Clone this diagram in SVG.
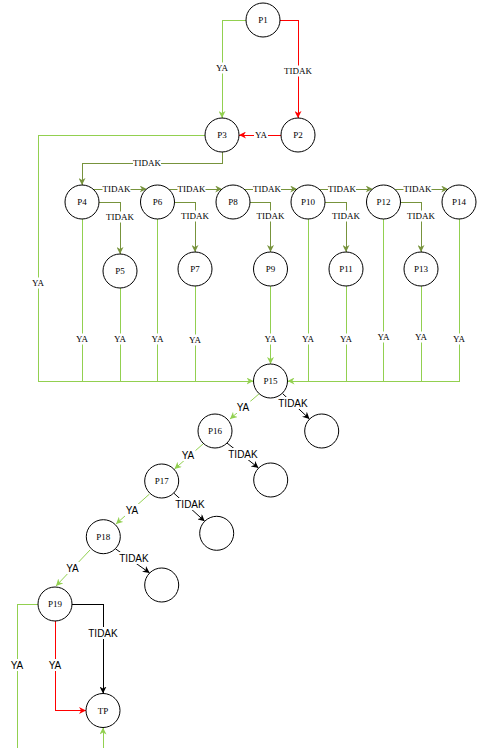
<svg xmlns="http://www.w3.org/2000/svg" width="481" height="748" viewBox="0 0 481 748">
  <style>
    .node circle { fill: #fff; stroke: #000; stroke-width: 1; }
    .node text { font-family: "Liberation Serif", "Times New Roman", serif; font-size: 9px; fill: #000; text-anchor: middle; dominant-baseline: central; }
    .c { fill: none; stroke-width: 1; }
    .h { shape-rendering: crispEdges; }
    .g { stroke: #92D050; }
    .o { stroke: #77933C; }
    .r { stroke: #FF0000; }
    .k { stroke: #000; }
    .bg { fill: #fff; stroke: none; }
    .ls { font-family: "Liberation Serif", "Times New Roman", serif; font-size: 9px; fill: #000; text-anchor: middle; dominant-baseline: central; }
    .la { font-family: "Liberation Sans", Arial, sans-serif; font-size: 10px; fill: #000; text-anchor: middle; dominant-baseline: central; }
  </style>
  <defs>
    <marker id="ag" viewBox="0 0 10 10" refX="10" refY="5" markerWidth="7" markerHeight="7" markerUnits="userSpaceOnUse" orient="auto">
      <path d="M0,0 L10,5 L0,10 L3,5 z" fill="#92D050"/>
    </marker>
    <marker id="ao" viewBox="0 0 10 10" refX="10" refY="5" markerWidth="7" markerHeight="7" markerUnits="userSpaceOnUse" orient="auto">
      <path d="M0,0 L10,5 L0,10 L3,5 z" fill="#77933C"/>
    </marker>
    <marker id="ar" viewBox="0 0 10 10" refX="10" refY="5" markerWidth="7" markerHeight="7" markerUnits="userSpaceOnUse" orient="auto">
      <path d="M0,0 L10,5 L0,10 L3,5 z" fill="#FF0000"/>
    </marker>
    <marker id="ak" viewBox="0 0 10 10" refX="10" refY="5" markerWidth="7" markerHeight="7" markerUnits="userSpaceOnUse" orient="auto">
      <path d="M0,0 L10,5 L0,10 L3,5 z" fill="#000"/>
    </marker>
  </defs>
  <rect width="481" height="748" fill="#fff"/>

  <g id="connectors">
    <!-- top decision P1 / P2 / P3 -->
    <path class="c h g" d="M246,20 H222 V118" marker-end="url(#ag)"/>
    <path class="c h r" d="M280,20 H298 V118" marker-end="url(#ar)"/>
    <path class="c h r" d="M281,135 H239" marker-end="url(#ar)"/>
    <path class="c h o" d="M222,152 V163 H82 V185" marker-end="url(#ao)"/>

    <!-- chain P4 .. P14 -->
    <path class="c h o" d="M92.8,189 H146.7" marker-end="url(#ao)"/>
    <path class="c h o" d="M168.3,189 H222.2" marker-end="url(#ao)"/>
    <path class="c h o" d="M243.8,189 H297.2" marker-end="url(#ao)"/>
    <path class="c h o" d="M318.8,189 H372.7" marker-end="url(#ao)"/>
    <path class="c h o" d="M394.3,189 H448.2" marker-end="url(#ao)"/>
    <path class="c h o" d="M99,202 H120 V254" marker-end="url(#ao)"/>
    <path class="c h o" d="M174.5,202 H195 V252" marker-end="url(#ao)"/>
    <path class="c h o" d="M250,202 H270.5 V252" marker-end="url(#ao)"/>
    <path class="c h o" d="M325,202 H346 V252" marker-end="url(#ao)"/>
    <path class="c h o" d="M400.5,202 H421 V252" marker-end="url(#ao)"/>

    <!-- YA branches collected into P15 -->
    <path class="c h g" d="M205,135 H38 V381 H253.5" marker-end="url(#ag)"/>
    <path class="c h g" d="M82,219 V381"/>
    <path class="c h g" d="M120,288 V381"/>
    <path class="c h g" d="M157.5,219 V381"/>
    <path class="c h g" d="M195,286 V381"/>
    <path class="c h g" d="M270.5,286 V364" marker-end="url(#ag)"/>
    <path class="c h g" d="M459,219 V381 H287.5" marker-end="url(#ag)"/>
    <path class="c h g" d="M308,219 V381"/>
    <path class="c h g" d="M346,286 V381"/>
    <path class="c h g" d="M383.5,219 V381"/>
    <path class="c h g" d="M421,286 V381"/>

    <!-- descending diagonal chain -->
    <path class="c g" d="M260,393 L230,419" marker-end="url(#ag)"/>
    <path class="c k" d="M282.5,393.5 L309.5,419" marker-end="url(#ak)"/>
    <path class="c g" d="M203,444 L174.5,469" marker-end="url(#ag)"/>
    <path class="c k" d="M227,443 L258.5,468" marker-end="url(#ak)"/>
    <path class="c g" d="M149.5,494 L116,524" marker-end="url(#ag)"/>
    <path class="c k" d="M173.7,493 L204.7,521.3" marker-end="url(#ak)"/>
    <path class="c g" d="M90,550 L56,586" marker-end="url(#ag)"/>
    <path class="c k" d="M115.3,548.7 L149.7,573" marker-end="url(#ak)"/>

    <!-- P19 / TP -->
    <path class="c h g" d="M38,604 H17 V748"/>
    <path class="c h r" d="M55,621 V710.5 H86" marker-end="url(#ar)"/>
    <path class="c h k" d="M72,604 H103 V693.5" marker-end="url(#ak)"/>
    <path class="c h g" d="M103,748 V727.5" marker-end="url(#ag)"/>

    <!-- labels (serif) -->
    <g>
      <rect class="bg" x="215" y="62.5" width="14" height="11"/><text class="ls" x="222" y="68">YA</text>
      <rect class="bg" x="284" y="65.5" width="28" height="11"/><text class="ls" x="298" y="71">TIDAK</text>
      <rect class="bg" x="254" y="129.5" width="14" height="11"/><text class="ls" x="261" y="135">YA</text>
      <rect class="bg" x="133" y="157.5" width="28" height="11"/><text class="ls" x="147" y="163">TIDAK</text>

      <rect class="bg" x="102.5" y="183.5" width="28" height="11"/><text class="ls" x="116.5" y="189">TIDAK</text>
      <rect class="bg" x="177.5" y="183.5" width="28" height="11"/><text class="ls" x="191.5" y="189">TIDAK</text>
      <rect class="bg" x="253" y="183.5" width="28" height="11"/><text class="ls" x="267" y="189">TIDAK</text>
      <rect class="bg" x="328" y="183.5" width="28" height="11"/><text class="ls" x="342" y="189">TIDAK</text>
      <rect class="bg" x="403.5" y="183.5" width="28" height="11"/><text class="ls" x="417.5" y="189">TIDAK</text>

      <rect class="bg" x="106" y="211.5" width="28" height="11"/><text class="ls" x="120" y="217">TIDAK</text>
      <rect class="bg" x="181" y="210.5" width="28" height="11"/><text class="ls" x="195" y="216">TIDAK</text>
      <rect class="bg" x="256.5" y="210.5" width="28" height="11"/><text class="ls" x="270.5" y="216">TIDAK</text>
      <rect class="bg" x="332" y="210.5" width="28" height="11"/><text class="ls" x="346" y="216">TIDAK</text>
      <rect class="bg" x="407" y="210.5" width="28" height="11"/><text class="ls" x="421" y="216">TIDAK</text>

      <rect class="bg" x="31" y="277.5" width="14" height="11"/><text class="ls" x="38" y="283">YA</text>
      <rect class="bg" x="75" y="333.5" width="14" height="11"/><text class="ls" x="82" y="339">YA</text>
      <rect class="bg" x="113" y="333.5" width="14" height="11"/><text class="ls" x="120" y="339">YA</text>
      <rect class="bg" x="150.5" y="333.5" width="14" height="11"/><text class="ls" x="157.5" y="339">YA</text>
      <rect class="bg" x="188" y="334.5" width="14" height="11"/><text class="ls" x="195" y="340">YA</text>
      <rect class="bg" x="263.5" y="333.5" width="14" height="11"/><text class="ls" x="270.5" y="339">YA</text>
      <rect class="bg" x="301" y="333.5" width="14" height="11"/><text class="ls" x="308" y="339">YA</text>
      <rect class="bg" x="339" y="333.5" width="14" height="11"/><text class="ls" x="346" y="339">YA</text>
      <rect class="bg" x="376.5" y="331.5" width="14" height="11"/><text class="ls" x="383.5" y="337">YA</text>
      <rect class="bg" x="414" y="331.5" width="14" height="11"/><text class="ls" x="421" y="337">YA</text>
      <rect class="bg" x="452" y="333.5" width="14" height="11"/><text class="ls" x="459" y="339">YA</text>
    </g>

    <!-- labels (sans) -->
    <g>
      <rect class="bg" x="235.5" y="401" width="15" height="12"/><text class="la" x="243" y="407">YA</text>
      <rect class="bg" x="277.5" y="397" width="31" height="12"/><text class="la" x="293" y="403">TIDAK</text>
      <rect class="bg" x="180.5" y="449" width="15" height="12"/><text class="la" x="188" y="455">YA</text>
      <rect class="bg" x="227.5" y="448" width="31" height="12"/><text class="la" x="243" y="454">TIDAK</text>
      <rect class="bg" x="124.5" y="504" width="15" height="12"/><text class="la" x="132" y="510">YA</text>
      <rect class="bg" x="174.5" y="498" width="31" height="12"/><text class="la" x="190" y="504">TIDAK</text>
      <rect class="bg" x="65" y="562" width="15" height="12"/><text class="la" x="72.5" y="568">YA</text>
      <rect class="bg" x="118.5" y="552" width="31" height="12"/><text class="la" x="134" y="558">TIDAK</text>
      <rect class="bg" x="87.5" y="627" width="31" height="12"/><text class="la" x="103" y="633">TIDAK</text>
      <rect class="bg" x="47.5" y="659" width="15" height="12"/><text class="la" x="55" y="665">YA</text>
      <rect class="bg" x="9.5" y="659" width="15" height="12"/><text class="la" x="17" y="665">YA</text>
    </g>
  </g>

  <g id="P1" class="node"><circle cx="263" cy="20" r="17"/><text x="263" y="20">P1</text></g>
  <g id="P2" class="node"><circle cx="298" cy="135" r="17"/><text x="298" y="135">P2</text></g>
  <g id="P3" class="node"><circle cx="222" cy="135" r="17"/><text x="222" y="135">P3</text></g>
  <g id="P4" class="node"><circle cx="82" cy="202" r="17"/><text x="82" y="202">P4</text></g>
  <g id="P5" class="node"><circle cx="120" cy="271" r="17"/><text x="120" y="271">P5</text></g>
  <g id="P6" class="node"><circle cx="157.5" cy="202" r="17"/><text x="157.5" y="202">P6</text></g>
  <g id="P7" class="node"><circle cx="195" cy="269" r="17"/><text x="195" y="269">P7</text></g>
  <g id="P8" class="node"><circle cx="233" cy="202" r="17"/><text x="233" y="202">P8</text></g>
  <g id="P9" class="node"><circle cx="270.5" cy="269" r="17"/><text x="270.5" y="269">P9</text></g>
  <g id="P10" class="node"><circle cx="308" cy="202" r="17"/><text x="308" y="202">P10</text></g>
  <g id="P11" class="node"><circle cx="346" cy="269" r="17"/><text x="346" y="269">P11</text></g>
  <g id="P12" class="node"><circle cx="383.5" cy="202" r="17"/><text x="383.5" y="202">P12</text></g>
  <g id="P13" class="node"><circle cx="421" cy="269" r="17"/><text x="421" y="269">P13</text></g>
  <g id="P14" class="node"><circle cx="459" cy="202" r="17"/><text x="459" y="202">P14</text></g>
  <g id="P15" class="node"><circle cx="270.5" cy="381" r="17"/><text x="270.5" y="381">P15</text></g>
  <g id="P16" class="node"><circle cx="215" cy="431" r="17"/><text x="215" y="431">P16</text></g>
  <g id="P17" class="node"><circle cx="161.7" cy="481" r="17"/><text x="161.7" y="481">P17</text></g>
  <g id="P18" class="node"><circle cx="103.3" cy="536.7" r="17"/><text x="103.3" y="536.7">P18</text></g>
  <g id="P19" class="node"><circle cx="55" cy="604" r="17"/><text x="55" y="604">P19</text></g>
  <g id="TP" class="node"><circle cx="103" cy="710.5" r="17"/><text x="103" y="710.5">TP</text></g>
  <g id="E1" class="node"><circle cx="321.7" cy="431" r="17"/></g>
  <g id="E2" class="node"><circle cx="270.7" cy="480" r="17"/></g>
  <g id="E3" class="node"><circle cx="216.7" cy="533.3" r="17"/></g>
  <g id="E4" class="node"><circle cx="161.7" cy="585" r="17"/></g>
</svg>
